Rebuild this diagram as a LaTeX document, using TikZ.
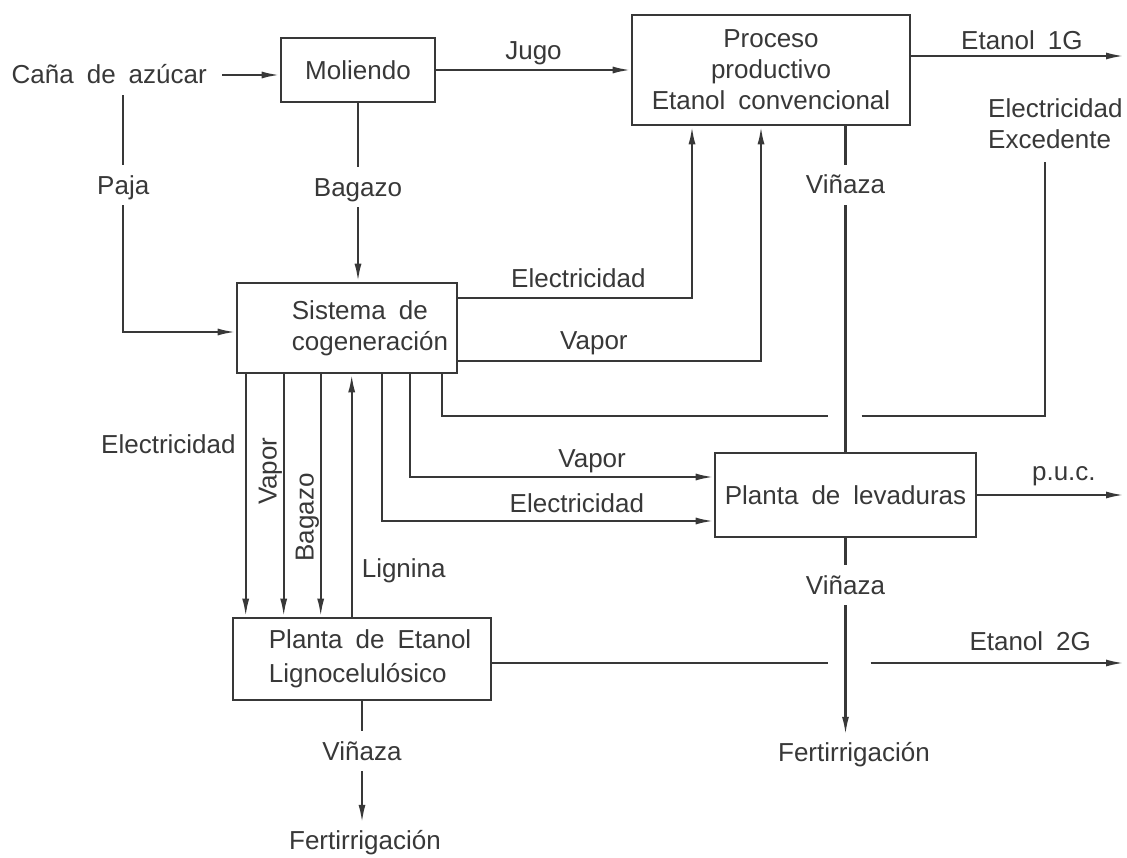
\documentclass[tikz,border=0pt]{standalone}
\usepackage{fontspec}
\setmainfont{Liberation Sans}[WordSpace=1.8]
\usetikzlibrary{arrows.meta}
\definecolor{tinta}{HTML}{383838}

\begin{document}
\begin{tikzpicture}[x=1pt,y=-1pt,
    every node/.style={inner sep=0pt,text=tinta,font=\fontsize{26pt}{31pt}\selectfont},
    caja/.style={draw=tinta,line width=2.6pt},
    linea/.style={draw=tinta,line width=2.2pt},
    flujo/.style={linea,-{Latex[length=18pt,width=7pt]}},
    etiq/.style={text height=18pt,text depth=0pt},
    corte/.style={etiq,fill=white,inner xsep=3pt,inner ysep=11pt},
    vert/.style={etiq,rotate=90,anchor=south,text depth=6pt}]
    \pgfmathsetmacro{\gapl}{18}
    \pgfmathsetmacro{\gapr}{25}
    \useasboundingbox (0,0) rectangle (1127,858);

    % bloques
    \node[caja,minimum width=154pt,minimum height=64pt] (moliendo) at (358,70) {Moliendo};
    \node[caja,minimum width=278pt,minimum height=110pt,align=center] (proceso) at (771,70)
        {Proceso\\productivo\\Etanol convencional};
    \node[caja,minimum width=220pt,minimum height=90pt] (sistema) at (347,328) {};
    \node[anchor=west,align=left] (sistematxt) at ([xshift=56pt]sistema.west) {Sistema de\\cogeneración};
    \node[caja,minimum width=261pt,minimum height=84pt] (levaduras) at (845.5,495) {Planta de levaduras};
    \node[caja,minimum width=258pt,minimum height=82pt] (ligno) at (362,659) {};
    \node[anchor=west,align=left] (lignotxt) at ([xshift=37pt]ligno.west) {Planta de Etanol\\[3pt]Lignocelulósico};

    % textos sueltos
    \node[etiq,anchor=east] (cana) at (207,75) {Caña de azúcar};
    \node[anchor=north west,align=left] (excedente) at (988,98) {Electricidad\\Excedente};
    \node[etiq,inner ysep=8pt] (fertA) at (365,840) {Fertirrigación};
    \node[etiq,inner ysep=8pt] (fertB) at (854,752) {Fertirrigación};
    \coordinate (borde) at (1124,0);
    \coordinate (excTop) at (1045,162);
    \foreach \n/\dx in {1/10,2/48,3/85,4/116,5/146,6/174,7/206}
        \coordinate (s\n) at ([xshift=\dx pt]sistema.south west);

    % entrada de caña
    \draw[flujo] ([xshift=15pt]cana.east) -- (cana.east -| moliendo.west);
    \draw[flujo] ([xshift=14pt,yshift=-11pt]cana.south) |- node[corte,pos=.19]{Paja} ([yshift=-4pt]sistema.west);
    \draw[flujo] (moliendo.south) -- node[corte,pos=.47]{Bagazo} (moliendo.south |- sistema.north);
    \draw[flujo] (moliendo.east) -- node[etiq,above=9pt]{Jugo} (moliendo.east -| proceso.west);

    % proceso convencional
    \coordinate (p1) at ([yshift=14pt]proceso.east);
    \draw[flujo] (p1) -- node[etiq,above=5pt,pos=.52]{Etanol 1G} (p1 -| borde);
    \draw[linea] (proceso.south -| levaduras.north) -- node[corte,pos=.18]{Viñaza} (levaduras.north);
    \draw[flujo] ([yshift=30pt]sistema.east) -| node[etiq,above=9pt,pos=.257]{Electricidad} ([xshift=-79pt]proceso.south);
    \draw[flujo] ([yshift=-33pt]sistema.east) -| node[etiq,above=10pt,pos=.224]{Vapor} ([xshift=-10pt]proceso.south);

    % electricidad excedente
    \path (s7) ++(0,42) coordinate (exc0);
    \coordinate (exc) at (exc0 -| levaduras.north);
    \draw[linea] (s7) |- ([xshift=-\gapl pt]exc);
    \draw[linea] ([xshift=16pt]exc) -| (excTop);

    % planta de levaduras
    \draw[flujo] (s5) |- node[etiq,above=7pt,pos=.794]{Electricidad} ([yshift=-26pt]levaduras.west);
    \draw[flujo] (s6) |- node[etiq,above=8pt,pos=.8]{Vapor} ([yshift=18pt]levaduras.west);
    \draw[flujo] (levaduras.east) -- node[etiq,above=13pt,pos=.59]{p.u.c.} (levaduras.east -| borde);
    \draw[flujo] (levaduras.south) -- node[corte,pos=.24]{Viñaza} (levaduras.south |- fertB.north);

    % planta lignocelulosica
    \draw[flujo] (s1) -- node[etiq,left=9pt,pos=.29]{Electricidad} (s1 |- ligno.north);
    \draw[flujo] (s2) -- node[vert,pos=.40]{Vapor} (s2 |- ligno.north);
    \draw[flujo] (s3) -- node[vert,pos=.59]{Bagazo} (s3 |- ligno.north);
    \draw[flujo] (s4 |- ligno.north) -- node[etiq,right=9pt,pos=.2]{Lignina} (s4);
    \draw[flujo] (ligno.south) -- node[corte,pos=.41]{Viñaza} (ligno.south |- fertA.north);
    \coordinate (l2) at ([yshift=-4pt]ligno.east);
    \coordinate (c2) at (l2 -| levaduras.south);
    \draw[linea] (l2) -- ([xshift=-\gapl pt]c2);
    \draw[flujo] ([xshift=\gapr pt]c2) -- node[etiq,above=11pt,pos=.63]{Etanol 2G} (l2 -| borde);
\end{tikzpicture}
\end{document}
